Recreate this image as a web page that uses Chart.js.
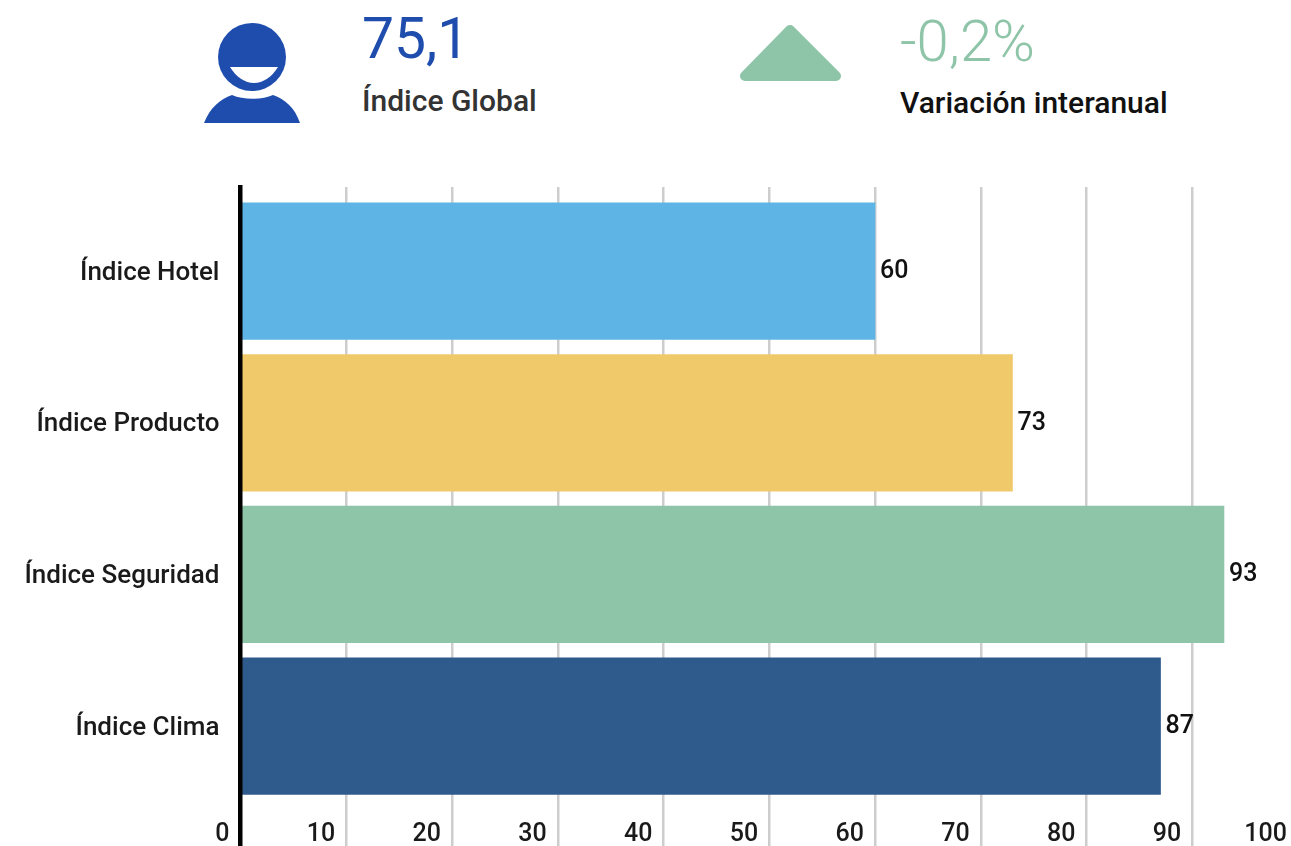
<!DOCTYPE html>
<html lang="es">
<head>
<meta charset="utf-8">
<title>Índice Global</title>
<script src="https://cdn.jsdelivr.net/npm/chart.js@4/dist/chart.umd.min.js"></script>
<style>
  html, body { margin: 0; padding: 0; background: #fff; }
  body { width: 1291px; height: 846px; overflow: hidden; position: relative; font-family: Roboto, sans-serif; }
  .kpi { position: absolute; white-space: nowrap; line-height: 1; }
  #global-value { left: 362px; top: 10px; font-size: 57px; color: #1f4dad; }
  #global-label { left: 362px; top: 86px; font-size: 30px; font-weight: 500; color: #333; }
  #change-value { left: 900px; top: 12px; font-size: 58px; font-weight: 300; color: #8ec4a7; }
  #change-label { left: 900px; top: 88px; font-size: 30px; font-weight: 500; color: #111; }
  #icons { position: absolute; left: 0; top: 0; }
  #chart-box { position: absolute; left: 0; top: 0; width: 1320px; height: 876px; }
</style>
</head>
<body>
<svg id="icons" width="1291" height="140">
  <circle cx="252" cy="57" r="34" fill="#1f4dad"/>
  <path d="M230 67 L278 67 C272 77 263 83 254 83 C245 83 236 77 230 67 Z" fill="#fff"/>
  <path d="M204 123 C210 108 220 99 232 95 C243 100 262 100 273 95 C285 99 295 108 300 123 Z" fill="#1f4dad"/>
  <polygon points="790,30 745,76 836,76" fill="#8ec4a7" stroke="#8ec4a7" stroke-width="10" stroke-linejoin="round"/>
</svg>
<div class="kpi" id="global-value">75,1</div>
<div class="kpi" id="global-label">Índice Global</div>
<div class="kpi" id="change-value">-0,2%</div>
<div class="kpi" id="change-label">Variación interanual</div>
<div id="chart-box"><canvas id="chart"></canvas></div>

<script>
const categories = ["Índice Hotel", "Índice Producto", "Índice Seguridad", "Índice Clima"];
const values = [60, 73, 93, 87];
const barColors = ["#5eb5e5", "#efc96a", "#8ec4a7", "#2f5a8c"];
const xTicks = [0, 10, 20, 30, 40, 50, 60, 70, 80, 90, 100];

// Draw the number at the end of each bar
const barValueLabels = {
  id: "barValueLabels",
  afterDatasetsDraw(chart) {
    const ctx = chart.ctx;
    ctx.save();
    ctx.font = "500 25px Roboto";
    ctx.fillStyle = "#111";
    ctx.textAlign = "left";
    ctx.textBaseline = "middle";
    chart.getDatasetMeta(0).data.forEach(function (bar, i) {
      ctx.fillText(values[i], bar.x + 5, bar.y + 0.5);
    });
    ctx.restore();
  }
};

// The x labels sit inside the plot, left of their grid line, so draw them from the scale's ticks
const xAxisLabels = {
  id: "xAxisLabels",
  afterDraw(chart) {
    const ctx = chart.ctx;
    const scale = chart.scales.x;
    ctx.save();
    ctx.font = "500 25px Roboto";
    ctx.fillStyle = "#1a1a1a";
    ctx.textAlign = "right";
    ctx.textBaseline = "middle";
    scale.ticks.forEach(function (tick, i) {
      ctx.fillText(tick.label, scale.getPixelForTick(i) - 11, chart.chartArea.bottom - 13);
    });
    ctx.restore();
  }
};

Chart.defaults.font.family = "Roboto";

new Chart(document.getElementById("chart"), {
  type: "bar",
  plugins: [barValueLabels, xAxisLabels],
  data: {
    datasets: [{
      data: values.map((v, i) => ({ x: v, y: i })),
      backgroundColor: barColors,
      barThickness: 136.5,
      borderWidth: 0
    }]
  },
  options: {
    indexAxis: "y",
    responsive: true,
    maintainAspectRatio: false,
    animation: false,
    layout: { padding: { top: 187, right: 22 } },
    plugins: { legend: { display: false }, tooltip: { enabled: false } },
    scales: {
      x: {
        type: "linear",
        position: "bottom",
        min: 0,
        max: 100,
        afterFit(scale) { scale.height = 0; },
        afterBuildTicks(scale) { scale.ticks = xTicks.map(v => ({ value: v })); },
        grid: { color: "#cdcdcd", lineWidth: 2.5, drawTicks: false },
        border: { display: false },
        ticks: { display: false, maxRotation: 0, autoSkip: false }
      },
      y: {
        type: "linear",
        reverse: true,
        offset: false,
        min: -0.555,
        max: 3.8,
        afterFit(scale) { scale.width = 240.5; },
        grid: { display: false, offset: false },
        border: { color: "#000", width: 4.5, z: 1 },
        ticks: {
          stepSize: 1,
          includeBounds: false,
          padding: 13,
          labelOffset: 2,
          color: "#1a1a1a",
          font: { size: 26, weight: "500" },
          callback: value => categories[value]
        }
      }
    }
  }
});
</script>
</body>
</html>
